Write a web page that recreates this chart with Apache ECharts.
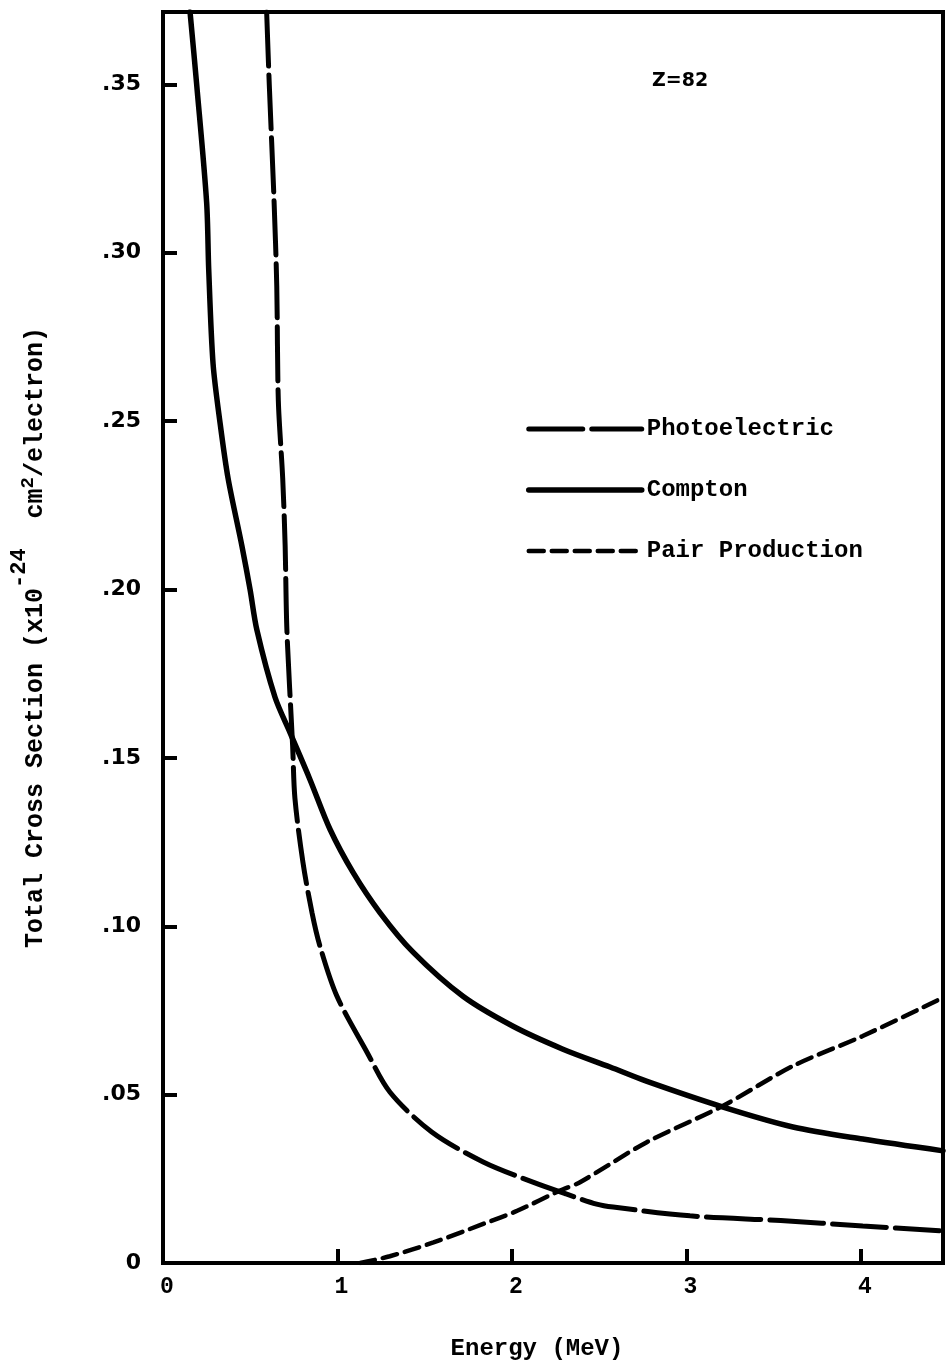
<!DOCTYPE html>
<html>
<head>
<meta charset="utf-8">
<script src="https://cdn.jsdelivr.net/npm/echarts@6/dist/echarts.min.js"></script>
<style>
  html, body { margin: 0; padding: 0; background: #fff; }
  #chart { width: 950px; height: 1366px; }
</style>
</head>
<body>
<div id="chart"></div>
<script>
// Energy (MeV) and cross-section values
const photoE  = [0.594, 0.609, 0.636, 0.652, 0.661, 0.686, 0.700, 0.710, 0.743, 0.756, 0.802, 0.854, 0.900, 0.997, 1.169, 1.301, 1.540, 1.835, 2.120, 2.310, 2.485, 2.580, 3.020, 3.540, 4.010, 4.450];
const photoV  = [0.3715, 0.350, 0.316, 0.290, 0.256, 0.233, 0.213, 0.188, 0.1535, 0.138, 0.119, 0.104, 0.094, 0.0792, 0.0626, 0.0507, 0.0389, 0.030, 0.024, 0.0205, 0.0175, 0.0166, 0.014, 0.0126, 0.011, 0.0096];

const comptonE = [0.155, 0.193, 0.250, 0.262, 0.287, 0.327, 0.373, 0.452, 0.499, 0.538, 0.642, 0.728, 0.842, 0.957, 1.089, 1.244, 1.433, 1.719, 2.006, 2.292, 2.562, 2.770, 3.210, 3.610, 4.010, 4.470];
const comptonV = [0.3715, 0.350, 0.315, 0.295, 0.267, 0.2495, 0.233, 0.213, 0.200, 0.188, 0.168, 0.1575, 0.1436, 0.1288, 0.116, 0.104, 0.0923, 0.0792, 0.0703, 0.0635, 0.0582, 0.054, 0.0463, 0.0404, 0.0368, 0.0333];

const pairE = [1.130, 1.300, 1.550, 1.835, 2.030, 2.275, 2.390, 2.770, 3.210, 3.610, 4.010, 4.470];
const pairV = [0.000, 0.002, 0.0061, 0.0116, 0.0155, 0.0215, 0.024, 0.0358, 0.0467, 0.0585, 0.0674, 0.0788];

const seriesNames = ['Photoelectric', 'Compton', 'Pair Production'];
const xTicks = [0, 1, 2, 3, 4];
const yTicks = [0, 0.05, 0.10, 0.15, 0.20, 0.25, 0.30, 0.35];

const zip = (a, b) => a.map((v, i) => [v, b[i]]);
const mono = '"Liberation Mono", monospace';
const sans = '"DejaVu Sans", sans-serif';

const chart = echarts.init(document.getElementById('chart'), null, { renderer: 'canvas' });
chart.setOption({
  backgroundColor: '#fff',
  animation: false,
  title: {
    text: 'Z=82',
    left: 647, top: 67,
    textStyle: { fontFamily: sans, fontWeight: 'bold', fontSize: 19, color: '#000' }
  },
  legend: {
    orient: 'vertical',
    left: 521, top: 412,
    itemWidth: 113, itemHeight: 22, itemGap: 37,
    data: seriesNames,
    itemStyle: { color: 'transparent', borderColor: 'transparent', borderWidth: 0 },
    lineStyle: { width: 'inherit', type: 'inherit' },
    textStyle: { fontFamily: mono, fontWeight: 'bold', fontSize: 24, color: '#000' }
  },
  grid: {
    left: 163, right: 7, top: 12, bottom: 102,
    show: true, borderColor: '#000', borderWidth: 4, backgroundColor: 'transparent'
  },
  xAxis: {
    type: 'value', min: 0, max: 4.47, interval: 1,
    name: 'Energy (MeV)', nameLocation: 'middle', nameGap: 74,
    nameTextStyle: { fontFamily: mono, fontWeight: 'bold', fontSize: 24, color: '#000', padding: [0, 32, 0, 0] },
    axisLine: { show: true, lineStyle: { color: '#000', width: 4 } },
    axisTick: { show: true, inside: true, length: 14, lineStyle: { color: '#000', width: 4 } },
    splitLine: { show: false },
    showMaxLabel: false,
    axisLabel: {
      margin: 13, fontFamily: mono, fontWeight: 'bold', fontSize: 23, color: '#000',
      padding: [0, 0, 0, 8],
      formatter: v => xTicks.indexOf(v) >= 0 ? String(v) : ''
    }
  },
  yAxis: {
    type: 'value', min: 0, max: 0.3715, interval: 0.05,
    name: 'Total Cross Section (x10{sup|-24}  cm{sup2|2}/electron)',
    nameLocation: 'middle', nameGap: 99,
    nameTextStyle: {
      fontFamily: mono, fontWeight: 'bold', fontSize: 25, color: '#000', lineHeight: 56,
      rich: {
        sup: { fontFamily: mono, fontWeight: 'bold', fontSize: 22, color: '#000', lineHeight: 20, verticalAlign: 'top' },
        sup2: { fontFamily: mono, fontWeight: 'bold', fontSize: 19, color: '#000', verticalAlign: 'top', padding: [11, 0, 0, 0] }
      }
    },
    axisLine: { show: true, lineStyle: { color: '#000', width: 4 } },
    axisTick: { show: true, inside: true, length: 14, lineStyle: { color: '#000', width: 4 } },
    splitLine: { show: false },
    showMaxLabel: false,
    axisLabel: {
      margin: 22, fontFamily: sans, fontWeight: 'bold', fontSize: 22, color: '#000',
      formatter: v => {
        const k = yTicks.findIndex(t => Math.abs(t - v) < 1e-6);
        if (k < 0) return '';
        if (k === 0) return '0';
        return '.' + String(Math.round(v * 100)).padStart(2, '0');
      }
    }
  },
  series: [
    {
      name: seriesNames[0], type: 'line', data: zip(photoE, photoV),
      smooth: 0.3, symbol: 'none', clip: true,
      lineStyle: { color: '#000', width: 5, type: [54, 9], cap: 'round' },
      itemStyle: { color: '#000' }
    },
    {
      name: seriesNames[1], type: 'line', data: zip(comptonE, comptonV),
      smooth: 0.3, symbol: 'none', clip: true,
      lineStyle: { color: '#000', width: 5.5, type: 'solid', cap: 'round' },
      itemStyle: { color: '#000' }
    },
    {
      name: seriesNames[2], type: 'line', data: zip(pairE, pairV),
      smooth: 0.3, symbol: 'none', clip: true,
      lineStyle: { color: '#000', width: 4.5, type: [15, 8], cap: 'round' },
      itemStyle: { color: '#000' }
    }
  ]
});
</script>
</body>
</html>
